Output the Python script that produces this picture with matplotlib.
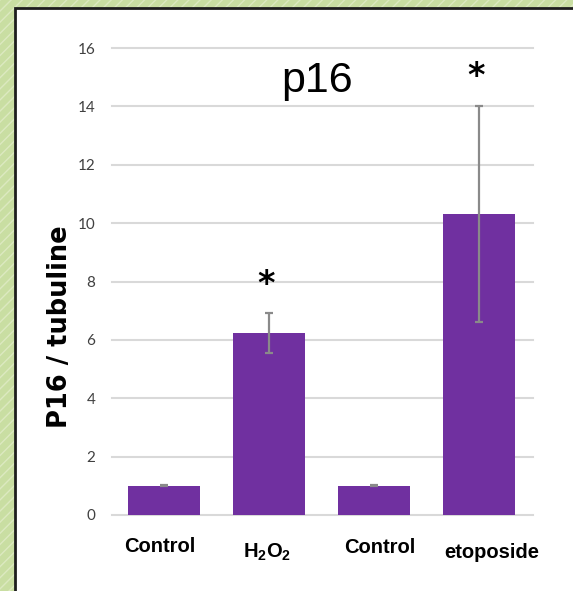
import matplotlib
matplotlib.use("Agg")
import matplotlib.pyplot as plt
import matplotlib.transforms as mtransforms
from matplotlib.patches import Rectangle

# p16 expression normalised to tubulin
groups = ["Control", r"H$_\mathbf{2}$O$_\mathbf{2}$", "Control", "etoposide"]
p16 = [1.0, 6.23, 1.0, 10.31]
p16_err = [0.02, 0.68, 0.02, 3.70]
significant = [False, True, False, True]
yticks = [0, 2, 4, 6, 8, 10, 12, 14, 16]

plt.rcParams["mathtext.fontset"] = "custom"
plt.rcParams["mathtext.bf"] = "Liberation Sans:bold"
plt.rcParams["mathtext.rm"] = "Liberation Sans:bold"

W, H = 573, 591
fig = plt.figure(figsize=(W / 100, H / 100), dpi=100)

# striped green backdrop + white slide panel
bg = Rectangle((0, 0), 1, 1, transform=fig.transFigure, facecolor="#c9dea2",
               edgecolor="#dce9c0", hatch="///", linewidth=0, zorder=-10)
fig.patches.append(bg)
panel = Rectangle((15 / W, -0.05), 1.1, 1 - 8 / H + 0.05, transform=fig.transFigure,
                  facecolor="white", edgecolor="#1e1e1e", linewidth=2.0, zorder=-9)
fig.patches.append(panel)

ax = fig.add_axes([112 / W, 1 - 515 / H, 421 / W, 467 / H])
ax.patch.set_alpha(0)
x = list(range(len(p16)))
ax.bar(x, p16, width=0.686, color="#7030a0", zorder=3)
ax.errorbar(x, p16, yerr=p16_err, fmt="none", ecolor="#8a8a8a", elinewidth=1.6,
            capsize=3.2, capthick=1.6, zorder=4)

ax.set_xlim(-0.495, 3.514)
ax.set_ylim(0, 16)
ax.set_yticks(yticks)
ax.set_yticklabels([str(t) for t in yticks], fontsize=11, color="#404040", family="Lato")
ax.tick_params(axis="both", length=0)
ax.tick_params(axis="y", pad=12)
ax.yaxis.grid(True, color="#d9d9d9", linewidth=1.5, zorder=0)
for gl in ax.get_ygridlines():
    gl.set_clip_on(False)
for s in ax.spines.values():
    s.set_visible(False)

ax.set_xticks(x)
ax.set_xticklabels(groups, fontsize=14.5, fontweight="bold", family="Liberation Sans")
ax.tick_params(axis="x", pad=16)
label_shift = [(-4, 0), (-2, -4), (6, -1), (13, -6)]
for lab, (dx, dy) in zip(ax.get_xticklabels(), label_shift):
    lab.set_transform(lab.get_transform() +
                      mtransforms.ScaledTranslation(dx / 100, dy / 100, fig.dpi_scale_trans))

for xi, v, e, sig in zip(x, p16, p16_err, significant):
    if sig:
        ax.text(xi - 0.03, v + e + 1.0, "*", ha="center", va="center",
                fontsize=24, fontweight="bold", family="DejaVu Sans")

fig.text(317 / W, 1 - 92 / H, "p16", ha="center", va="baseline",
         fontsize=31, family="Liberation Sans")
fig.text(60 / W, 1 - 327 / H, "P16 / tubuline", ha="center", va="center",
         rotation=90, fontsize=18.5, fontweight="bold", family="DejaVu Sans")

fig.savefig("out.png", dpi=100)
